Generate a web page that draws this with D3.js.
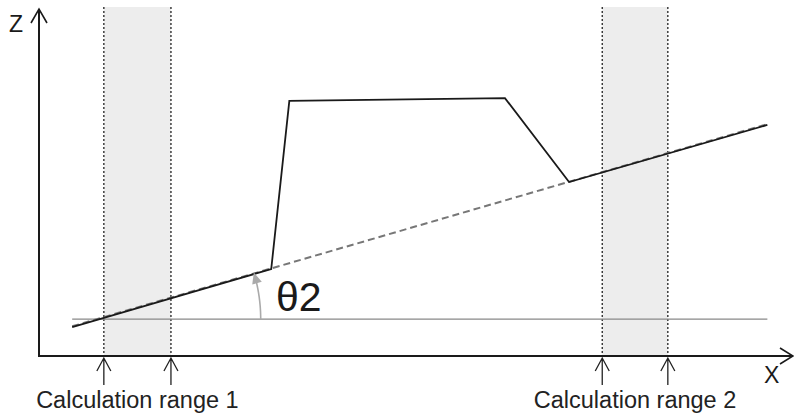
<!DOCTYPE html>
<html><head><meta charset="utf-8">
<script src="https://cdn.jsdelivr.net/npm/d3@7"></script>
<style>body{margin:0;background:#fff}svg{display:block;font-family:"Liberation Sans",Arial,sans-serif}</style>
</head><body><svg id="c" width="794" height="416"></svg>
<script>
// Data (arbitrary units: x 0..100, z 0..100)
const profileX = [4.4, 30.8, 33.2, 61.8, 70.3, 96.6];
const profileZ = [8.3, 25.0, 73.3, 74.1, 50.0, 66.4];
const trendX = [4.4, 96.6];
const trendZ = [8.3, 66.4];
const baseX = [4.4, 96.6];
const baseZ = [10.6, 10.6];
const rangeLabels = ["Calculation range 1", "Calculation range 2"];
const rangeStart = [8.6, 74.7];
const rangeEnd = [17.5, 83.4];
const angleLabel = "θ2";

const svg = d3.select("#c");
const x = d3.scaleLinear().domain([0, 100]).range([39, 793]);
const z = d3.scaleLinear().domain([0, 100]).range([356, 8]);
const line = d3.line().x(d => x(d[0])).y(d => z(d[1]));

// shaded ranges
rangeStart.forEach((s, i) => {
  const e = rangeEnd[i];
  svg.append("rect").attr("x", x(s)).attr("y", 7).attr("width", x(e) - x(s)).attr("height", 356 - 7).attr("fill", "#ededed");
  [s, e].forEach(v => {
    svg.append("line").attr("x1", x(v)).attr("x2", x(v)).attr("y1", 7).attr("y2", 356)
      .attr("stroke", "#222").attr("stroke-width", 1.3).attr("stroke-dasharray", "2,2");
    // arrow below axis
    svg.append("path").attr("d", `M${x(v)},385 L${x(v)},358 M${x(v)-7},371 L${x(v)},358 L${x(v)+7},371`)
      .attr("fill", "none").attr("stroke", "#222").attr("stroke-width", 1.3);
  });
  svg.append("text").attr("x", (x(s) + x(e)) / 2).attr("y", 408).attr("text-anchor", "middle")
    .attr("font-size", 23.5).attr("fill", "#222").text(rangeLabels[i]);
});

// baseline
svg.append("path").datum(d3.zip(baseX, baseZ)).attr("d", line).attr("stroke", "#888").attr("stroke-width", 1.2).attr("fill", "none");

// trend dashed
svg.append("path").datum(d3.zip(trendX, trendZ)).attr("d", line).attr("stroke", "#777").attr("stroke-width", 2).attr("stroke-dasharray", "7,4").attr("fill", "none").attr("transform", "translate(0,-0.8)");

// profile
svg.append("path").datum(d3.zip(profileX, profileZ)).attr("d", line).attr("stroke", "#1a1a1a").attr("stroke-width", 1.8).attr("fill", "none").attr("stroke-linejoin", "miter");

// angle arc
const slope = (z(trendZ[1]) - z(trendZ[0])) / (x(trendX[1]) - x(trendX[0]));
const bY = z(baseZ[0]);
const cx = x(trendX[0]) + (bY - z(trendZ[0])) / slope;
const r = 161;
const ang = Math.atan(-slope);
const a0 = 0, a1 = ang - 0.03;
const arcPts = d3.range(0, 31).map(k => { const a = a0 + (a1 - a0) * k / 30; return [cx + r * Math.cos(a), bY - r * Math.sin(a)]; });
svg.append("path").attr("d", d3.line()(arcPts)).attr("fill", "none").attr("stroke", "#aaa").attr("stroke-width", 1.6);
// arrowhead
const tipA = ang + 0.01;
const tip = [cx + r * Math.cos(tipA), bY - r * Math.sin(tipA)];
const tdir = [-Math.sin(tipA), -Math.cos(tipA)];
const nrm = [Math.cos(tipA), -Math.sin(tipA)];
const L = 11, W = 5;
const p1 = [tip[0] - tdir[0] * L + nrm[0] * W, tip[1] - tdir[1] * L + nrm[1] * W];
const p2 = [tip[0] - tdir[0] * L - nrm[0] * W, tip[1] - tdir[1] * L - nrm[1] * W];
svg.append("path").attr("d", `M${tip}L${p1}L${p2}Z`).attr("fill", "#aaa");

svg.append("text").attr("x", 276).attr("y", 311).attr("font-size", 41).attr("fill", "#1a1a1a").text(angleLabel);

// axes
svg.append("path").attr("d", "M39,9 L39,356 L793,356").attr("fill", "none").attr("stroke", "#1a1a1a").attr("stroke-width", 2);
svg.append("path").attr("d", "M31,23 L39,9 L47,23").attr("fill", "none").attr("stroke", "#1a1a1a").attr("stroke-width", 1.6);
svg.append("path").attr("d", "M780,348 L793,356 L780,364").attr("fill", "none").attr("stroke", "#1a1a1a").attr("stroke-width", 1.6);
svg.append("text").attr("x", 9).attr("y", 32).attr("font-size", 23).attr("fill", "#1a1a1a").text("Z");
svg.append("text").attr("x", 764).attr("y", 383).attr("font-size", 23).attr("fill", "#1a1a1a").text("X");
</script></body></html>
